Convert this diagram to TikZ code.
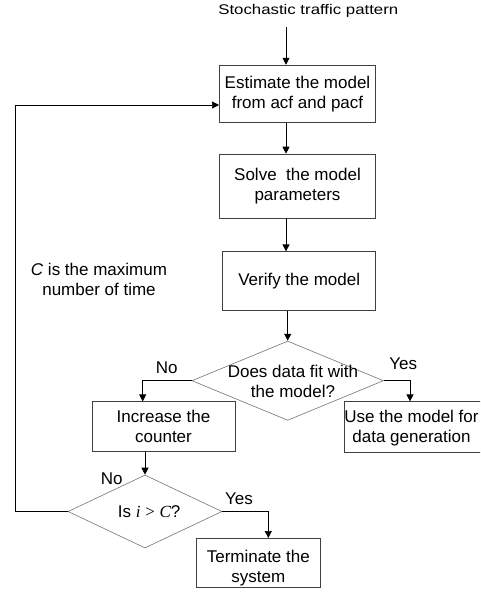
\documentclass[tikz,border=0pt]{standalone}
\usepackage{fontspec}
\setmainfont{Liberation Sans}
\newfontfamily\timesf{Liberation Serif}
\newfontfamily\widef{Liberation Sans}[FakeStretch=1.2]
\usetikzlibrary{arrows.meta,shapes.geometric}
\begin{document}
\begin{tikzpicture}[x=1pt,y=-1pt,
  every node/.style={font=\fontsize{17}{20}\selectfont, inner sep=0pt},
  box/.style={draw=black!75, line width=0.6pt, rectangle, align=center},
  dia/.style={draw=black!55, line width=0.6pt, diamond},
  txt/.style={align=center},
  arr/.style={line width=0.7pt, -{Triangle[length=7pt,width=7pt]}}]
\useasboundingbox (0,0) rectangle (480,592);
\clip (0,0) rectangle (480,592);

% title
\node[anchor=base, font=\widef\fontsize{14}{17}\selectfont] (title) at (308.3,14) {Stochastic traffic pattern};
\coordinate (s) at (286,27);

% boxes
\node[box, minimum width=156.4pt, minimum height=57.7pt] (b1) at (297.5,93.9) {Estimate the model\\from acf and pacf};
\node[box, minimum width=156.4pt, minimum height=64pt] (b2) at (297.5,186) {Solve\ \ the model\\parameters};
\node[box, minimum width=153pt, minimum height=59pt] (b3) at (299.2,281.2) {Verify the model};

% first decision
\node[dia, minimum width=191.6pt, minimum height=79.3pt] (d1) at (287.7,380.7) {};
\node[txt, text depth=0pt] (d1t) at (293,381.3) {Does data fit with\\the model?};

\node[box, minimum width=142pt, minimum height=50.6pt] (use) at (415,427) {};
\node[txt] (uset) at (411.5,428.2) {Use the model for\\data generation};
\node[box, minimum width=143pt, minimum height=50pt] (inc) at (163.5,426.7) {Increase the\\counter};

% second decision
\node[dia, minimum width=154pt, minimum height=73pt] (d2) at (145,511.5) {};
\node[txt] (d2t) at (149.2,511.7) {Is {\timesf\itshape i} {\timesf >} {\timesf\itshape C}?};

\node[box, minimum width=123.3pt, minimum height=49pt] (term) at (258.3,562.8) {};
\node[txt] (termt) at (258.3,568.3) {Terminate the\\system};

% note
\node[txt] (note) at (99,279.2) {{\itshape C} is the maximum\\number of time};

% labels
\node (no1) at (166.7,367.5) {No};
\node (yes1) at (403.3,363.7) {Yes};
\node (no2) at (111.7,478.3) {No};
\node (yes2) at (239,499.2) {Yes};

% connectors
\draw[arr] (s) -- (s |- b1.north);
\draw[arr] (b1.south -| s) -- (b2.north -| s);
\draw[arr] (b2.south -| s) -- (b3.north -| s);
\draw[arr] (b3.south -| d1.north) -- (d1.north);

\coordinate (yx) at (410,0);
\draw[arr] (d1.east) -| (yx |- use.north);
\coordinate (nx) at (142.7,0);
\draw[arr] (d1.west) -| (nx |- inc.north);

\draw[arr] (inc.south -| d2.north) -- (d2.north);

\coordinate (tx) at (268.3,0);
\draw[arr] (d2.east) -| (tx |- term.north);

\coordinate (fb) at (15.7,105);
\draw[arr] (d2.west) -| (fb) -- (fb -| b1.west);
\end{tikzpicture}
\end{document}
